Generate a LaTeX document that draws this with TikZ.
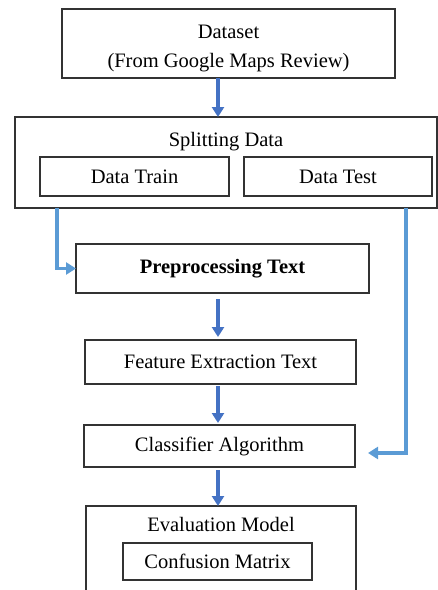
\documentclass[tikz,border=0pt]{standalone}
\usepackage{fontspec}
\setmainfont{Liberation Serif}
\usetikzlibrary{positioning}
\usetikzlibrary{arrows.meta}
\definecolor{flowblue}{HTML}{4472C4}
\definecolor{sideblue}{HTML}{5B9BD5}
\tikzset{>={Triangle[width=12pt,length=10pt]}}

\begin{document}
\begin{tikzpicture}[x=1pt, y=1pt, box/.style={draw=black!80, line width=1.2pt, fill=white, inner sep=0pt, outer sep=0pt, align=center, font=\fontsize{20.5}{24.5}\selectfont}, plain/.style={draw=none, inner sep=0pt, font=\fontsize{20.5}{24.5}\selectfont}, flow/.style={->, draw=flowblue, line width=3.2pt}, sideflow/.style={->, draw=sideblue, line width=3.2pt}]
    \useasboundingbox (0,0) rectangle (438,-590);
    \clip (0,0) rectangle (438,-590);
    
    %Nodes
    \node[box, minimum width=333pt, minimum height=69pt, font=\fontsize{20.5}{29}\selectfont](dataset) at (228.5,-43.5){\rule{0pt}{24pt}Dataset\\(From Google Maps Review)};
    \node[box, minimum width=422pt, minimum height=91pt](split)[below=39pt of dataset, xshift=-2.5pt]{};
    \node[plain](splittitle)[below=15pt of split.north]{Splitting Data};
    \node[box, minimum width=189pt, minimum height=39pt](train)[below right=40pt and 25pt of split.north west]{Data Train};
    \node[box, minimum width=188pt, minimum height=39pt](test)[right=15pt of train]{Data Test};
    \node[box, minimum width=293pt, minimum height=49pt, font=\fontsize{20.5}{24.5}\selectfont\bfseries](prep)[below=36pt of split, xshift=-3.5pt]{Preprocessing Text};
    \node[box, minimum width=271pt, minimum height=44pt](feat)[below=47pt of prep, xshift=-2pt]{Feature Extraction Text};
    \node[box, minimum width=271pt, minimum height=42pt](cls)[below=41pt of feat, xshift=-1pt]{Classifier Algorithm};
    \node[box, minimum width=270pt, minimum height=110pt](eval)[below=39pt of cls, xshift=1.5pt]{};
    \node[plain](evaltitle)[below=11pt of eval.north]{Evaluation Model};
    \node[box, minimum width=189pt, minimum height=37pt](conf)[below=37pt of eval.north, xshift=-3.5pt]{Confusion Matrix};
    \coordinate (spine) at (218,0);
    
    %Lines
    \draw[flow] (dataset.south -| spine) -- (split.north -| spine);
    \draw[flow, shorten <=6pt, shorten >=3pt] (prep.south -| spine) -- (feat.north -| spine);
    \draw[flow, shorten <=2pt, shorten >=2pt] (feat.south -| spine) -- (cls.north -| spine);
    \draw[flow, shorten <=3pt] (cls.south -| spine) -- (eval.north -| spine);
    \draw[sideflow] ([xshift=17pt]train.west |- split.south) |- (prep.west);
    \draw[sideflow] ([xshift=-26pt]test.east |- split.south) |- ([xshift=13pt, yshift=-7pt]cls.east);
    
\end{tikzpicture}
\end{document}
